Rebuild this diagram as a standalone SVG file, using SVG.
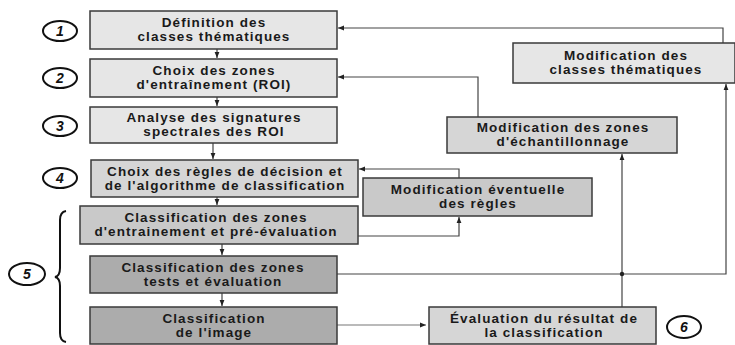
<svg xmlns="http://www.w3.org/2000/svg" width="735" height="345" viewBox="0 0 735 345">
<defs>
<style>
.box{stroke:#3a3a3a;stroke-width:1.5}
.l1{fill:#e6e6e6}.l2{fill:#d6d6d6}.l3{fill:#c9c9c9}.l4{fill:#acacac}
.t{font-family:"Liberation Sans",Arial,sans-serif;font-weight:bold;font-size:13.5px;letter-spacing:1.1px;fill:#1a1a1a;text-anchor:middle}
.num{font-family:"Liberation Sans",Arial,sans-serif;font-style:italic;font-weight:bold;font-size:14px;fill:#111;text-anchor:middle}
.ell{fill:#fff;stroke:#111;stroke-width:2}
.c{fill:none;stroke:#444;stroke-width:1.2}
.c2{fill:none;stroke:#777;stroke-width:1.2}
</style>
<marker id="ah" viewBox="0 0 10 10" refX="10" refY="5" markerWidth="6" markerHeight="6" orient="auto" markerUnits="userSpaceOnUse">
<path d="M0,1 L10,5 L0,9 z" fill="#222"/>
</marker>
</defs>
<rect width="735" height="345" fill="#fff"/>

<g id="labels">
<ellipse class="ell" cx="60" cy="31" rx="17" ry="10"/><text class="num" x="60" y="36">1</text>
<ellipse class="ell" cx="60" cy="78" rx="17" ry="10"/><text class="num" x="60" y="83">2</text>
<ellipse class="ell" cx="60" cy="126" rx="17" ry="10"/><text class="num" x="60" y="131">3</text>
<ellipse class="ell" cx="60" cy="178" rx="17" ry="10"/><text class="num" x="60" y="183">4</text>
<ellipse class="ell" cx="27" cy="274" rx="18" ry="11"/><text class="num" x="27" y="279">5</text>
<ellipse class="ell" cx="684" cy="327" rx="17" ry="11"/><text class="num" x="684" y="332">6</text>
<path d="M66,211 Q60,212 60,220 L60,268 Q60,276 55,277 Q60,278 60,286 L60,333 Q60,341 66,342" fill="none" stroke="#111" stroke-width="2"/>
</g>

<g id="connectors">
<path class="c" d="M723,43 V28 H338" marker-end="url(#ah)"/>
<path class="c" d="M478,117 V77 H338" marker-end="url(#ah)"/>
<path class="c" d="M459,178 V169 H359" marker-end="url(#ah)"/>
<path class="c" d="M358,236 H459 V217" marker-end="url(#ah)"/>
<path class="c" d="M337,274 H726 V84" marker-end="url(#ah)"/>
<path class="c" d="M622,307 V154" marker-end="url(#ah)"/>
<circle cx="622" cy="274" r="2.2" fill="#222"/>
<path class="c2" d="M337,325 H426" marker-end="url(#ah)"/>
<path class="c" d="M217,49 V58" marker-end="url(#ah)"/>
<path class="c" d="M217,97 V106" marker-end="url(#ah)"/>
<path class="c" d="M213,143 V159" marker-end="url(#ah)"/>
<path class="c" d="M217,197 V205" marker-end="url(#ah)"/>
<path class="c" d="M222,244 V255" marker-end="url(#ah)"/>
<path class="c" d="M222,293 V306" marker-end="url(#ah)"/>
</g>

<g id="n1"><rect class="box l1" x="90" y="11" width="247" height="38"/>
<text class="t" x="214" y="27">Définition des</text><text class="t" x="214" y="41">classes thématiques</text></g>
<g id="n2"><rect class="box l1" x="90" y="59" width="247" height="38"/>
<text class="t" x="214" y="75">Choix des zones</text><text class="t" x="214" y="89">d'entraînement (ROI)</text></g>
<g id="n3"><rect class="box l1" x="90" y="107" width="247" height="36"/>
<text class="t" x="214" y="122">Analyse des signatures</text><text class="t" x="214" y="136">spectrales des ROI</text></g>
<g id="n4"><rect class="box l2" x="91" y="160" width="267" height="37"/>
<text class="t" x="225" y="175.5">Choix des règles de décision et</text><text class="t" x="225" y="189.5">de l'algorithme de classification</text></g>
<g id="n5a"><rect class="box l3" x="80" y="206" width="278" height="38"/>
<text class="t" x="216" y="222">Classification des zones</text><text class="t" x="216" y="236">d'entrainement et pré-évaluation</text></g>
<g id="n5b"><rect class="box l4" x="90" y="256" width="247" height="37"/>
<text class="t" x="213" y="271.5">Classification des zones</text><text class="t" x="213" y="285.5">tests et évaluation</text></g>
<g id="n5c"><rect class="box l4" x="90" y="307" width="247" height="37"/>
<text class="t" x="214" y="322.5">Classification</text><text class="t" x="214" y="336.5">de l'image</text></g>
<g id="mclasses"><rect class="box l1" x="513" y="43" width="222" height="40"/>
<text class="t" x="626" y="60">Modification des</text><text class="t" x="626" y="74">classes thématiques</text></g>
<g id="mzones"><rect class="box l2" x="447" y="117" width="230" height="36"/>
<text class="t" x="563" y="132">Modification des zones</text><text class="t" x="563" y="146">d'échantillonnage</text></g>
<g id="mregles"><rect class="box l3" x="363" y="178" width="229" height="38"/>
<text class="t" x="478" y="194">Modification éventuelle</text><text class="t" x="478" y="208">des règles</text></g>
<g id="evaluation"><rect class="box l2" x="429" y="307" width="227" height="37"/>
<text class="t" x="544" y="322.5">Évaluation du résultat de</text><text class="t" x="544" y="336.5">la classification</text></g>
</svg>
